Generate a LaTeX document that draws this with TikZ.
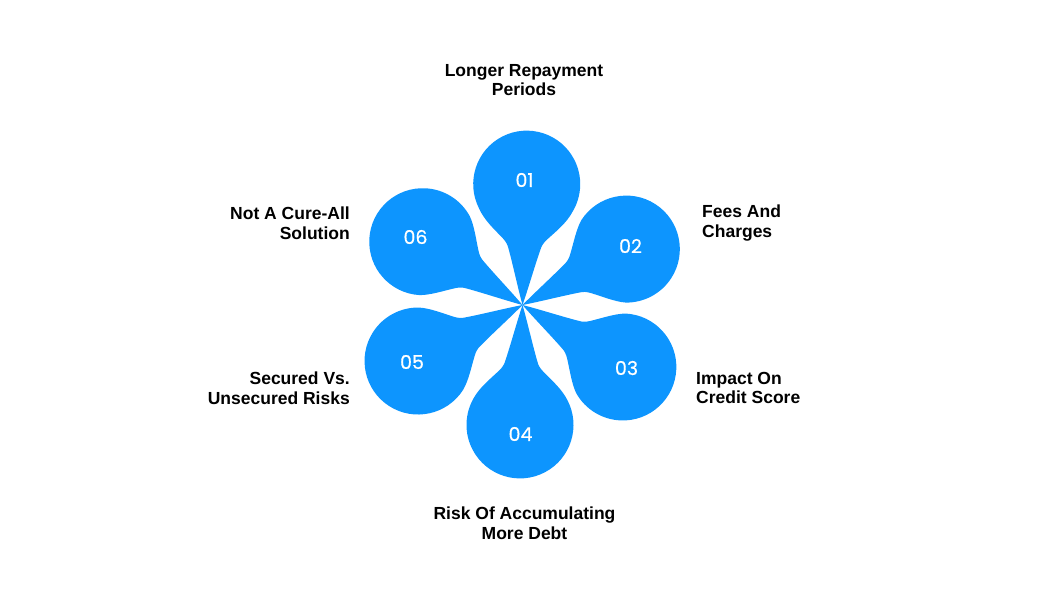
\documentclass[tikz,border=0pt]{standalone}
\usepackage{fontspec}
\setmainfont{Liberation Sans}
\newfontfamily\numfont[FakeBold=0.5]{Poppins}
\definecolor{petalblue}{HTML}{0D95FE}
\tikzset{
  petal/.style={fill=petalblue, draw=none},
  num/.style={text=white, inner sep=0pt, font=\numfont\fontsize{19}{19}\selectfont},
  lbl/.style={text=black, inner sep=0pt, font=\bfseries\fontsize{17.5}{19.6}\selectfont}
}
\begin{document}
\begin{tikzpicture}[x=1pt, y=1pt]
  \useasboundingbox (0,0) rectangle (1050,-600);
  \coordinate (hub) at (522.5,-305);

  % Petals
  \foreach \ang/\len in {-2/121,-61.7/118,-121.7/118,-181.2/120,118.2/118.6,57.6/118.2} {
    \fill[petal, shift={(hub)}, rotate=\ang] (0,0)
      .. controls (-5,16) and (-11,40) .. (-16,56)
      .. controls (-17,60) and (-19,63) .. (-22,66)
      .. controls (-30,74) and (-41,83) .. (-46.8,\len-26)
      arc[start angle=209, end angle=-29, radius=53.5]
      .. controls (41,83) and (30,74) .. (22,66)
      .. controls (19,63) and (17,60) .. (16,56)
      .. controls (11,40) and (5,16) .. (0,0) -- cycle;
  }

  % Numbers
  \node[num] (n1) at (524.5,-180) {01};
  \node[num] (n2) at (630.5,-246) {02};
  \node[num] (n3) at (626.5,-368) {03};
  \node[num] (n4) at (520.5,-434) {04};
  \node[num] (n5) at (412,-362) {05};
  \node[num] (n6) at (415.5,-237) {06};

  % Labels
  \node[lbl, align=center] (l1) at (524,-80) {Longer Repayment\\Periods};
  \node[lbl, align=left, anchor=west] (l2) at (702,-223) {Fees And\\Charges};
  \node[lbl, align=left, anchor=west] (l3) at (696,-388) {Impact On\\Credit Score};
  \node[lbl, align=center] (l4) at (524.5,-523) {Risk Of Accumulating\\More Debt};
  \node[lbl, align=right, anchor=east] (l5) at (350,-388) {Secured Vs.\\Unsecured Risks};
  \node[lbl, align=right, anchor=east] (l6) at (350,-223) {Not A Cure-All\\Solution};
\end{tikzpicture}
\end{document}
